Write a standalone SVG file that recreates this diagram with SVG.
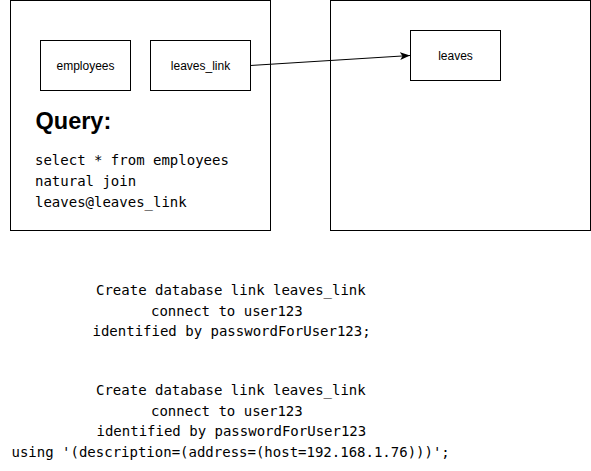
<svg xmlns="http://www.w3.org/2000/svg" width="591" height="471" viewBox="0 0 591 471">
<style>
  .box { fill: #ffffff; stroke: #000000; stroke-width: 1; }
  .lbl { font-family: "Liberation Sans", Arial, sans-serif; font-size: 12px; fill: #000000; text-anchor: middle; dominant-baseline: central; }
  .code { font-family: "DejaVu Sans Mono", monospace; font-size: 14px; fill: #000000; }
  .title { font-family: "Liberation Sans", Arial, sans-serif; font-size: 23.5px; font-weight: bold; fill: #000000; }
  .edge { fill: none; stroke: #000000; stroke-width: 1; }
</style>
<defs>
  <marker id="arrow" viewBox="0 0 10 10" refX="10" refY="5" markerWidth="10" markerHeight="10" markerUnits="userSpaceOnUse" orient="auto">
    <path d="M0,1 L10,5 L0,9 L2.5,5 Z" fill="#000000"/>
  </marker>
</defs>
<rect width="591" height="471" fill="#ffffff"/>
<g id="local-db">
  <rect class="box" x="10.5" y="0.5" width="260" height="230"/>
</g>
<g id="remote-db">
  <rect class="box" x="330.5" y="0.5" width="260" height="230"/>
</g>
<g id="employees">
  <rect class="box" x="40.5" y="40.5" width="90" height="50"/>
  <text class="lbl" x="85.5" y="65.5">employees</text>
</g>
<g id="leaves_link">
  <rect class="box" x="150.5" y="40.5" width="100" height="50"/>
  <text class="lbl" x="200.5" y="65.5">leaves_link</text>
</g>
<g id="leaves">
  <rect class="box" x="410.5" y="30.5" width="90" height="50"/>
  <text class="lbl" x="455.5" y="55.5">leaves</text>
</g>
<g id="query">
  <text class="title" x="35.5" y="128.5">Query:</text>
  <text class="code" x="35" y="165">select * from employees</text>
  <text class="code" x="35" y="186">natural join</text>
  <text class="code" x="35" y="207">leaves@leaves_link</text>
</g>
<g id="connectors">
  <line class="edge" x1="250.5" y1="65.5" x2="410" y2="55.5" marker-end="url(#arrow)"/>
</g>
<g id="create-link-1">
  <text class="code" x="96" y="295">Create database link leaves_link</text>
  <text class="code" x="151" y="315.5">connect to user123</text>
  <text class="code" x="92.5" y="336">identified by passwordForUser123;</text>
</g>
<g id="create-link-2">
  <text class="code" x="96" y="395">Create database link leaves_link</text>
  <text class="code" x="151" y="415.5">connect to user123</text>
  <text class="code" x="96.5" y="436">identified by passwordForUser123</text>
  <text class="code" x="11.5" y="456.5">using '(description=(address=(host=192.168.1.76)))';</text>
</g>
</svg>
